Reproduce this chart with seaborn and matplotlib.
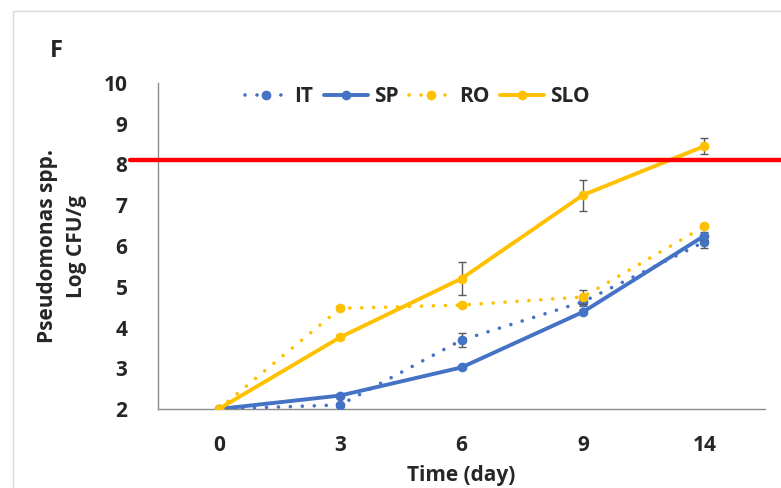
import matplotlib
matplotlib.use("Agg")
import matplotlib.pyplot as plt
import seaborn as sns
import numpy as np
import pandas as pd
from matplotlib.patches import Rectangle
from matplotlib.lines import Line2D

# Storage days and Pseudomonas counts (log CFU/g)
days = ["0", "3", "6", "9", "14"]
it_vals = [2.0, 2.10, 3.69, 4.63, 6.10]
sp_vals = [2.0, 2.33, 3.02, 4.38, 6.25]
ro_vals = [2.0, 4.47, 4.55, 4.75, 6.48]
slo_vals = [2.0, 3.76, 5.20, 7.25, 8.45]

it_err = [0.0, 0.05, 0.17, 0.10, 0.15]
sp_err = [0.0, 0.05, 0.05, 0.05, 0.10]
ro_err = [0.0, 0.05, 0.05, 0.18, 0.05]
slo_err = [0.0, 0.05, 0.40, 0.38, 0.20]

limit_value = 8.1
y_ticks = [2, 3, 4, 5, 6, 7, 8, 9, 10]

BLUE = "#4472C4"
GOLD = "#FFC000"
RED = "#FF0000"
GREY = "#595959"
FS = 15

sns.set_style("white")
plt.rcParams["font.family"] = ["Open Sans", "DejaVu Sans"]
plt.rcParams["font.weight"] = "bold"

fig = plt.figure(figsize=(7.81, 4.88), dpi=100)
ax = fig.add_axes([158 / 781, 1 - 409 / 488, 607 / 781, 326 / 488])

# light frame around the chart area
fig.patches.append(Rectangle((13 / 781, -0.1), 1.2, 1 - 11 / 488 + 0.1,
                             transform=fig.transFigure, fill=False,
                             edgecolor="#D9D9D9", linewidth=1.0))

pos = np.arange(len(days))
series = [
    ("IT", it_vals, it_err, BLUE, "dot"),
    ("SP", sp_vals, sp_err, BLUE, "solid"),
    ("RO", ro_vals, ro_err, GOLD, "dot"),
    ("SLO", slo_vals, slo_err, GOLD, "solid"),
]

dot_style = (0, (0.01, 3.3))
handles = []
for i, (name, vals, err, color, style) in enumerate(series):
    df = pd.DataFrame({"pos": pos, "value": vals})
    ax.errorbar(pos, vals, yerr=err, fmt="none", ecolor=GREY, elinewidth=1.0,
                capsize=3, capthick=1.0, zorder=2 + i)
    ls = dot_style if style == "dot" else "-"
    lw = 2.8 if style == "solid" else 2.6
    sns.lineplot(data=df, x="pos", y="value", ax=ax, color=color,
                 linestyle=ls, linewidth=lw,
                 dash_capstyle="round", marker="o", markersize=7,
                 markeredgewidth=0, zorder=3 + i, legend=False)
    handles.append(Line2D([], [], color=color, linestyle=ls, linewidth=lw,
                          dash_capstyle="round", marker="o", markersize=7,
                          markeredgewidth=0, label=name))

# spoilage limit line
ax.axhline(limit_value, xmin=(130 - 158) / 607, xmax=(781 - 158) / 607,
           color=RED, linewidth=3.2, clip_on=False, zorder=10)

ax.set_xlim(-0.5, len(days) - 0.5)
ax.set_ylim(2, 10)
ax.set_yticks(y_ticks)
ax.set_xticks(pos)
ax.set_xticklabels(days)
ax.set_xticks(np.arange(-0.5, len(days), 1.0), minor=True)
ax.tick_params(axis="x", which="major", length=0, pad=19, labelsize=FS)
ax.tick_params(axis="x", which="minor", length=7, width=1.0, color="#8C8C8C",
               direction="out")
ax.tick_params(axis="y", which="major", length=7, width=1.0, color="#8C8C8C",
               direction="out", pad=15, labelsize=FS)
for lbl in ax.get_xticklabels() + ax.get_yticklabels():
    lbl.set_fontweight("bold")

for side in ["top", "right"]:
    ax.spines[side].set_visible(False)
for side in ["left", "bottom"]:
    ax.spines[side].set_color("#8C8C8C")
    ax.spines[side].set_linewidth(1.0)

ax.set_xlabel("Time (day)", fontsize=FS, fontweight="bold", labelpad=6)
ax.set_ylabel("Pseudomonas spp.\nLog CFU/g", fontsize=FS,
              fontweight="bold", labelpad=12, linespacing=1.5)

fig.text(50 / 781, 1 - 51 / 488, "F", fontsize=17, fontweight="bold",
         ha="left", va="center")

leg = ax.legend(handles=handles, loc="center", bbox_to_anchor=(417 / 781, 1 - 97 / 488),
                bbox_transform=fig.transFigure, ncol=4, frameon=False,
                handlelength=2.1, handletextpad=0.3, columnspacing=0.5,
                prop={"size": FS, "weight": "bold"})

fig.savefig("out.png", dpi=100)
